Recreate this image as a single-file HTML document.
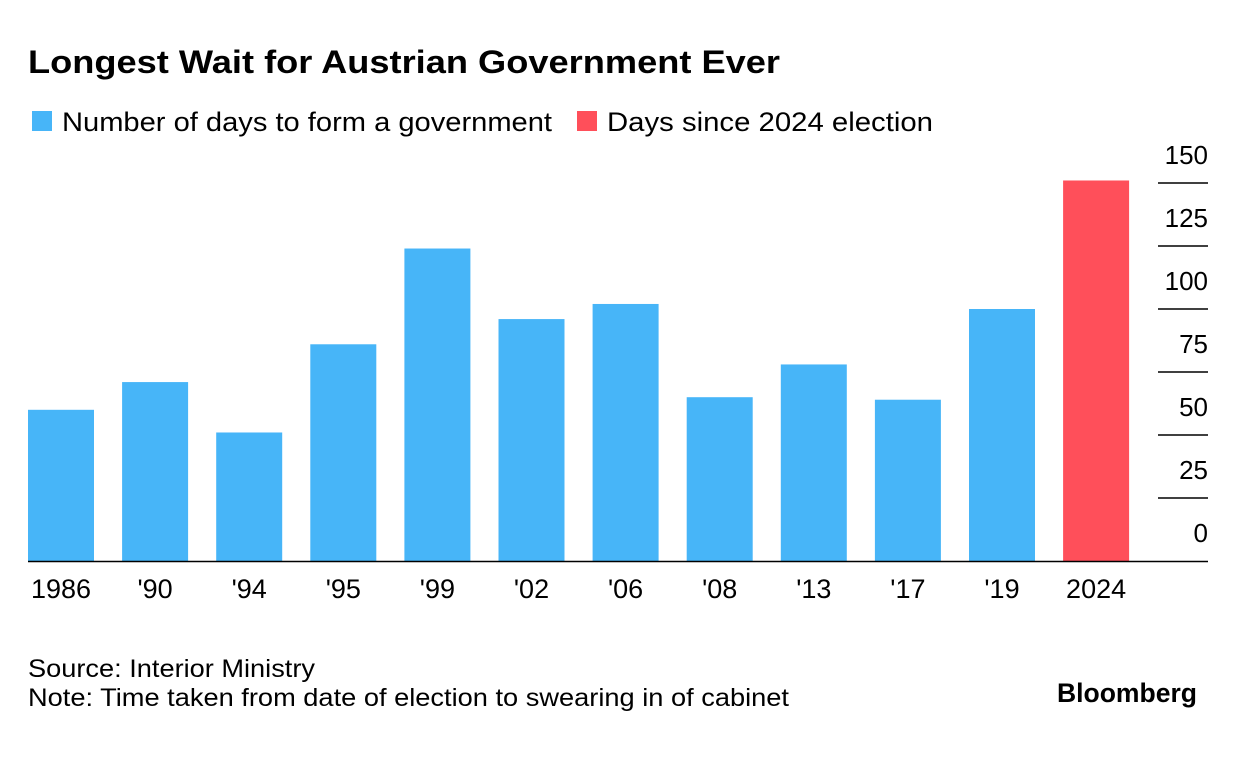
<!DOCTYPE html>
<html><head><meta charset="utf-8"><style>
body{margin:0;background:#fff;font-family:"Liberation Sans",sans-serif;}
svg text{font-family:"Liberation Sans",sans-serif;fill:#000;}
</style></head><body>
<svg width="1236" height="754">
<text x="28" y="73" font-size="32" font-weight="bold" textLength="752" lengthAdjust="spacingAndGlyphs">Longest Wait for Austrian Government Ever</text>
<rect x="32" y="111" width="20" height="20" fill="#47b5f8"/>
<text x="62" y="131" font-size="27" textLength="490" lengthAdjust="spacingAndGlyphs">Number of days to form a government</text>
<rect x="577" y="111" width="20" height="20" fill="#ff4f5a"/>
<text x="607" y="131" font-size="27" textLength="326" lengthAdjust="spacingAndGlyphs">Days since 2024 election</text>
<g id="grid"></g><g id="bars"></g><g id="xl"></g>
<line x1="28" x2="1208" y1="561.5" y2="561.5" stroke="#000" stroke-width="1.5"/>
<text x="28" y="677" font-size="25" textLength="287" lengthAdjust="spacingAndGlyphs">Source: Interior Ministry</text>
<text x="28" y="706" font-size="25" textLength="761" lengthAdjust="spacingAndGlyphs">Note: Time taken from date of election to swearing in of cabinet</text>
<text x="1057" y="702" font-size="27" font-weight="bold" textLength="140" lengthAdjust="spacingAndGlyphs">Bloomberg</text>
</svg>
<script>
const categories=["1986","'90","'94","'95","'99","'02","'06","'08","'13","'17","'19","2024"];
const values=[60,71,51,86,124,96,102,65,78,64,100,151];
const tickValues=[0,25,50,75,100,125,150];
const ns="http://www.w3.org/2000/svg";
const y0=561,pxPer=63/25;
const yScale=v=>y0-v*pxPer;
const xScale=i=>28+i*94.1;
function mk(t,a,p){const e=document.createElementNS(ns,t);for(const k in a)e.setAttribute(k,a[k]);p.appendChild(e);return e;}
const grid=document.getElementById('grid'),bars=document.getElementById('bars'),xl=document.getElementById('xl');
tickValues.forEach(v=>{
  if(v>0){const l=mk('line',{x1:1158,x2:1208,y1:yScale(v),y2:yScale(v),stroke:'#000','stroke-width':1.5},grid);
  
  }
  const t=mk('text',{x:1208,y:yScale(v)-19,'font-size':26,'text-anchor':'end'},grid);t.textContent=v;
  
  
});
categories.forEach((c,i)=>{
  const r=mk('rect',{x:xScale(i),y:yScale(values[i]),width:66,height:values[i]*pxPer,fill:i==categories.length-1?'#ff4f5a':'#47b5f8'},bars);
  
  
  const t=mk('text',{x:xScale(i)+33,y:598,'font-size':27,'text-anchor':'middle'},xl);t.textContent=c;
  
  
});
</script>
</body></html>
